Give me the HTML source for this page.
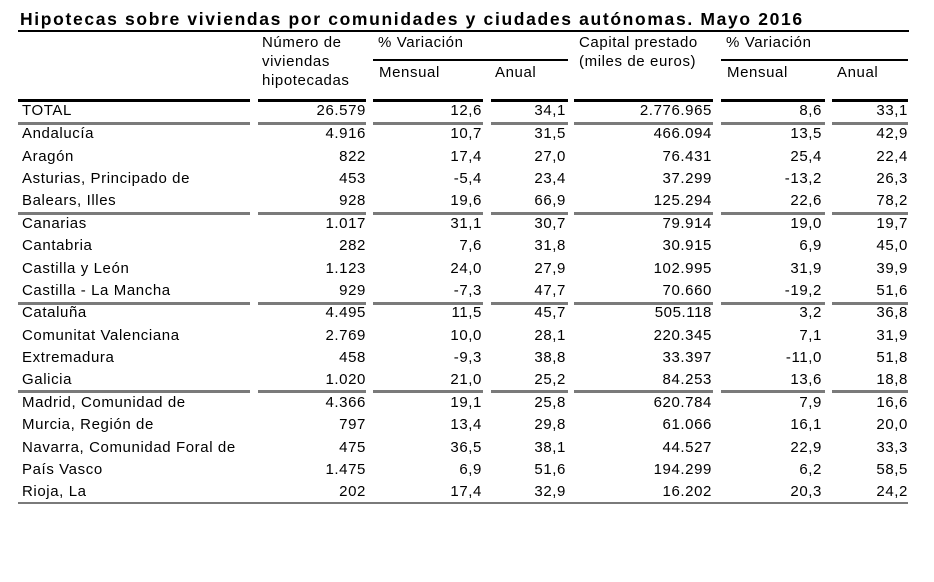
<!DOCTYPE html>
<html><head><meta charset="utf-8"><style>
body{margin:0;width:934px;height:582px;background:#fff;position:relative;font-family:"Liberation Sans",Arial,sans-serif;color:#000;overflow:hidden}
.t{position:absolute;left:20px;top:9px;font-size:17.5px;font-weight:bold;letter-spacing:1.65px;white-space:nowrap}
.h{position:absolute;font-size:15px;line-height:19px;white-space:nowrap;letter-spacing:0.6px}
.l{position:absolute;background:#000}
.g{position:absolute;background:#7a7a7a;height:3px}
.r{position:absolute;left:0;width:934px;height:20px;font-size:15px;line-height:20px;letter-spacing:0.6px}
.r span{position:absolute;white-space:nowrap}
.r .a{left:22px}
.r .c1{right:568px}.r .c2{right:452px}.r .c3{right:368px}.r .c4{right:222px}.r .c5{right:112px}.r .c6{right:26px}
</style></head><body>
<div class="t">Hipotecas sobre viviendas por comunidades y ciudades autónomas. Mayo 2016</div>
<div class="l" style="left:18px;top:30px;width:891px;height:2px"></div>
<div class="h" style="left:262px;top:33px">Número de<br>viviendas<br>hipotecadas</div>
<div class="h" style="left:378px;top:33px">% Variación</div>
<div class="h" style="left:579px;top:33px">Capital prestado<br>(miles de euros)</div>
<div class="h" style="left:726px;top:33px">% Variación</div>
<div class="l" style="left:373px;top:59px;width:195px;height:2px"></div>
<div class="l" style="left:721px;top:59px;width:187px;height:2px"></div>
<div class="h" style="left:379px;top:63px">Mensual</div>
<div class="h" style="left:495px;top:63px">Anual</div>
<div class="h" style="left:727px;top:63px">Mensual</div>
<div class="h" style="left:837px;top:63px">Anual</div>

<div class="l" style="left:18px;top:99px;width:232px;height:3px"></div>
<div class="l" style="left:258px;top:99px;width:108px;height:3px"></div>
<div class="l" style="left:373px;top:99px;width:110px;height:3px"></div>
<div class="l" style="left:491px;top:99px;width:77px;height:3px"></div>
<div class="l" style="left:574px;top:99px;width:139px;height:3px"></div>
<div class="l" style="left:721px;top:99px;width:104px;height:3px"></div>
<div class="l" style="left:832px;top:99px;width:76px;height:3px"></div>

<div class="g" style="left:18px;top:122px;width:232px"></div><div class="g" style="left:258px;top:122px;width:108px"></div><div class="g" style="left:373px;top:122px;width:110px"></div><div class="g" style="left:491px;top:122px;width:77px"></div><div class="g" style="left:574px;top:122px;width:139px"></div><div class="g" style="left:721px;top:122px;width:104px"></div><div class="g" style="left:832px;top:122px;width:76px"></div>
<div class="g" style="left:18px;top:212px;width:232px"></div><div class="g" style="left:258px;top:212px;width:108px"></div><div class="g" style="left:373px;top:212px;width:110px"></div><div class="g" style="left:491px;top:212px;width:77px"></div><div class="g" style="left:574px;top:212px;width:139px"></div><div class="g" style="left:721px;top:212px;width:104px"></div><div class="g" style="left:832px;top:212px;width:76px"></div>
<div class="g" style="left:18px;top:302px;width:232px"></div><div class="g" style="left:258px;top:302px;width:108px"></div><div class="g" style="left:373px;top:302px;width:110px"></div><div class="g" style="left:491px;top:302px;width:77px"></div><div class="g" style="left:574px;top:302px;width:139px"></div><div class="g" style="left:721px;top:302px;width:104px"></div><div class="g" style="left:832px;top:302px;width:76px"></div>
<div class="g" style="left:18px;top:390px;width:232px"></div><div class="g" style="left:258px;top:390px;width:108px"></div><div class="g" style="left:373px;top:390px;width:110px"></div><div class="g" style="left:491px;top:390px;width:77px"></div><div class="g" style="left:574px;top:390px;width:139px"></div><div class="g" style="left:721px;top:390px;width:104px"></div><div class="g" style="left:832px;top:390px;width:76px"></div>
<div class="g" style="left:18px;top:502px;width:890px;height:2px"></div>

<div class="r" style="top:101px"><span class="a">TOTAL</span><span class="c1">26.579</span><span class="c2">12,6</span><span class="c3">34,1</span><span class="c4">2.776.965</span><span class="c5">8,6</span><span class="c6">33,1</span></div>
<div class="r" style="top:124px"><span class="a">Andalucía</span><span class="c1">4.916</span><span class="c2">10,7</span><span class="c3">31,5</span><span class="c4">466.094</span><span class="c5">13,5</span><span class="c6">42,9</span></div>
<div class="r" style="top:147px"><span class="a">Aragón</span><span class="c1">822</span><span class="c2">17,4</span><span class="c3">27,0</span><span class="c4">76.431</span><span class="c5">25,4</span><span class="c6">22,4</span></div>
<div class="r" style="top:169px"><span class="a">Asturias, Principado de</span><span class="c1">453</span><span class="c2">-5,4</span><span class="c3">23,4</span><span class="c4">37.299</span><span class="c5">-13,2</span><span class="c6">26,3</span></div>
<div class="r" style="top:191px"><span class="a">Balears, Illes</span><span class="c1">928</span><span class="c2">19,6</span><span class="c3">66,9</span><span class="c4">125.294</span><span class="c5">22,6</span><span class="c6">78,2</span></div>
<div class="r" style="top:214px"><span class="a">Canarias</span><span class="c1">1.017</span><span class="c2">31,1</span><span class="c3">30,7</span><span class="c4">79.914</span><span class="c5">19,0</span><span class="c6">19,7</span></div>
<div class="r" style="top:236px"><span class="a">Cantabria</span><span class="c1">282</span><span class="c2">7,6</span><span class="c3">31,8</span><span class="c4">30.915</span><span class="c5">6,9</span><span class="c6">45,0</span></div>
<div class="r" style="top:259px"><span class="a">Castilla y León</span><span class="c1">1.123</span><span class="c2">24,0</span><span class="c3">27,9</span><span class="c4">102.995</span><span class="c5">31,9</span><span class="c6">39,9</span></div>
<div class="r" style="top:281px"><span class="a">Castilla - La Mancha</span><span class="c1">929</span><span class="c2">-7,3</span><span class="c3">47,7</span><span class="c4">70.660</span><span class="c5">-19,2</span><span class="c6">51,6</span></div>
<div class="r" style="top:303px"><span class="a">Cataluña</span><span class="c1">4.495</span><span class="c2">11,5</span><span class="c3">45,7</span><span class="c4">505.118</span><span class="c5">3,2</span><span class="c6">36,8</span></div>
<div class="r" style="top:326px"><span class="a">Comunitat Valenciana</span><span class="c1">2.769</span><span class="c2">10,0</span><span class="c3">28,1</span><span class="c4">220.345</span><span class="c5">7,1</span><span class="c6">31,9</span></div>
<div class="r" style="top:348px"><span class="a">Extremadura</span><span class="c1">458</span><span class="c2">-9,3</span><span class="c3">38,8</span><span class="c4">33.397</span><span class="c5">-11,0</span><span class="c6">51,8</span></div>
<div class="r" style="top:370px"><span class="a">Galicia</span><span class="c1">1.020</span><span class="c2">21,0</span><span class="c3">25,2</span><span class="c4">84.253</span><span class="c5">13,6</span><span class="c6">18,8</span></div>
<div class="r" style="top:393px"><span class="a">Madrid, Comunidad de</span><span class="c1">4.366</span><span class="c2">19,1</span><span class="c3">25,8</span><span class="c4">620.784</span><span class="c5">7,9</span><span class="c6">16,6</span></div>
<div class="r" style="top:415px"><span class="a">Murcia, Región de</span><span class="c1">797</span><span class="c2">13,4</span><span class="c3">29,8</span><span class="c4">61.066</span><span class="c5">16,1</span><span class="c6">20,0</span></div>
<div class="r" style="top:438px"><span class="a">Navarra, Comunidad Foral de</span><span class="c1">475</span><span class="c2">36,5</span><span class="c3">38,1</span><span class="c4">44.527</span><span class="c5">22,9</span><span class="c6">33,3</span></div>
<div class="r" style="top:460px"><span class="a">País Vasco</span><span class="c1">1.475</span><span class="c2">6,9</span><span class="c3">51,6</span><span class="c4">194.299</span><span class="c5">6,2</span><span class="c6">58,5</span></div>
<div class="r" style="top:482px"><span class="a">Rioja, La</span><span class="c1">202</span><span class="c2">17,4</span><span class="c3">32,9</span><span class="c4">16.202</span><span class="c5">20,3</span><span class="c6">24,2</span></div>
</body></html>
